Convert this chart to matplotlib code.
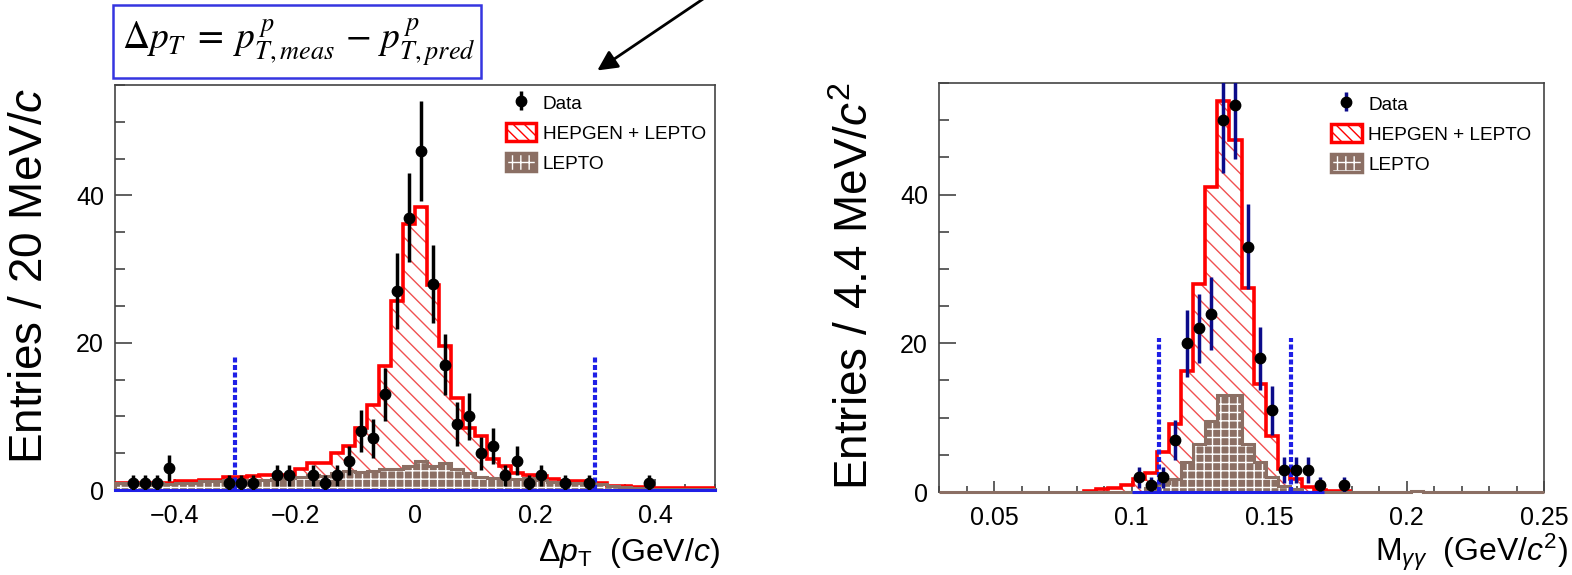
import numpy as np
import matplotlib
matplotlib.use("Agg")
import matplotlib.pyplot as plt
from matplotlib.patches import Patch, Rectangle, FancyArrowPatch
from matplotlib.ticker import MultipleLocator, FuncFormatter

plt.rcParams["font.family"] = ["Liberation Sans", "DejaVu Sans"]
plt.rcParams["mathtext.fontset"] = "custom"
plt.rcParams["mathtext.rm"] = "Liberation Sans"
plt.rcParams["mathtext.it"] = "Liberation Sans:italic"
plt.rcParams["mathtext.bf"] = "Liberation Sans:bold"
plt.rcParams["mathtext.sf"] = "Liberation Sans"
plt.rcParams["hatch.linewidth"] = 1.0

# --- left panel: delta pT, 50 bins of 20 MeV from -0.5 to 0.5 GeV
dpt_range = (-0.5, 0.5)
dpt_data = [0, 1, 1, 1, 3, 0, 0, 0, 0, 1,
            1, 1, 0, 2, 2, 0, 2, 1, 2, 4,
            8, 7, 13, 27, 37, 46, 28, 17, 9, 10,
            5, 6, 2, 4, 1, 2, 0, 1, 0, 1,
            0, 0, 0, 0, 1, 0, 0, 0, 0, 0]
dpt_total = [1.0, 1.0, 1.0, 1.0, 1.0, 1.2, 1.2, 1.4, 1.4, 1.7,
             1.7, 1.9, 2.0, 2.1, 2.1, 2.8, 3.7, 3.7, 5.0, 6.0,
             8.4, 11.6, 16.8, 25.6, 36.1, 38.5, 27.9, 19.5, 12.5, 8.4,
             7.3, 4.2, 3.3, 2.3, 2.1, 1.9, 1.5, 1.2, 1.2, 1.2,
             0.9, 0.6, 0.5, 0.4, 0.3, 0.3, 0.3, 0.3, 0.3, 0.3]
dpt_lepto = [0.9, 0.9, 0.9, 0.9, 0.8, 0.9, 1.0, 1.2, 1.2, 1.3,
             1.3, 1.4, 1.4, 1.5, 1.6, 1.8, 2.0, 1.9, 2.3, 2.6,
             2.5, 2.6, 2.8, 2.8, 3.2, 4.0, 3.3, 3.6, 2.8, 2.3,
             1.8, 1.6, 1.5, 1.5, 1.6, 1.3, 1.1, 1.0, 0.9, 0.9,
             0.8, 0.5, 0.4, 0.3, 0.2, 0.2, 0.2, 0.2, 0.2, 0.2]
dpt_cuts = [-0.3, 0.3]
dpt_cut_height = 18.3

# --- right panel: M_gg, 50 bins of 4.4 MeV from 0.03 to 0.25 GeV
mgg_range = (0.03, 0.25)
mgg_data = [0] * 16 + [2, 1, 2, 7, 20, 22, 24, 50, 52, 33,
                       18, 11, 3, 3, 3, 1, 0, 1] + [0] * 16
mgg_total = [0] * 12 + [0.2, 0.4, 0.5, 1.0, 1.8, 2.5, 5.4, 9.2, 16.3, 28.0,
                        41.0, 52.6, 47.3, 27.5, 14.5, 7.5, 3.1, 1.8, 0.7, 0.3,
                        0.2, 0.2] + [0] * 16
mgg_lepto = [0] * 17 + [0.5, 1.2, 1.7, 4.0, 6.5, 9.5, 13.0, 13.0, 6.5, 4.0,
                        2.0, 0.8, 0.4] + [0] * 9 + [0.2] + [0] * 10
mgg_cuts = [0.11, 0.158]
mgg_cut_height = 20.7
mgg_blue_span = (0.10, 0.17)

RED = "#ff0000"
RED_HATCH = "#f05050"
BROWN = "#8b6f64"
BLUE = "#1f1fe6"
NAVY = "#0b0b8a"


def tick_fmt(v, pos):
    s = f"{v:.3f}".rstrip("0").rstrip(".")
    if s in ("-0", ""):
        s = "0"
    return s.replace("-", "\u2212")


def draw_panel(ax, rng, data, total, lepto, err_color):
    edges = np.linspace(rng[0], rng[1], len(data) + 1)
    centers = 0.5 * (edges[:-1] + edges[1:])
    total = np.asarray(total, float)
    lepto = np.asarray(lepto, float)
    data = np.asarray(data, float)

    nz = np.flatnonzero(total)
    lo, hi = nz[0], nz[-1] + 1
    ax.stairs(total[lo:hi], edges[lo:hi + 1], fill=True, facecolor="white",
              edgecolor=RED_HATCH, hatch="\\\\", lw=0, zorder=1)
    ax.stairs(lepto, edges, fill=True, facecolor=BROWN, edgecolor="white",
              hatch="++", lw=0, zorder=2)
    ax.stairs(total[lo:hi], edges[lo:hi + 1], color=RED, lw=2.6, zorder=3)
    ax.stairs(lepto, edges, color=BROWN, lw=2.2, zorder=3.5, clip_on=False)

    m = data > 0
    h = ax.errorbar(centers[m], data[m], yerr=np.sqrt(data[m]), fmt="o",
                    color="black", ecolor=err_color, ms=7.5, elinewidth=2.5,
                    capsize=0, zorder=6)

    ax.set_xlim(rng)
    ax.set_ylim(0, 55)
    for s in ax.spines.values():
        s.set_color("#444444")
        s.set_linewidth(1.2)
    ax.tick_params(axis="both", which="both", direction="in", top=False,
                   right=False, labelsize=18, color="#444444")
    ax.tick_params(axis="x", which="major", length=8, width=1.2, pad=10)
    ax.tick_params(axis="x", which="minor", length=4.5, width=1.2)
    ax.tick_params(axis="y", which="major", length=12, width=1.2, pad=8)
    ax.tick_params(axis="y", which="minor", length=7, width=1.2)
    ax.yaxis.set_major_locator(MultipleLocator(20))
    ax.yaxis.set_minor_locator(MultipleLocator(5))
    ax.xaxis.set_major_formatter(FuncFormatter(tick_fmt))
    return h


fig = plt.figure(figsize=(15.72, 5.75), dpi=100)
ax1 = fig.add_axes([115 / 1572, 85 / 575, 600 / 1572, 405 / 575])
ax2 = fig.add_axes([939 / 1572, 83 / 575, 605 / 1572, 409 / 575])

h1 = draw_panel(ax1, dpt_range, dpt_data, dpt_total, dpt_lepto, "black")
ax1.xaxis.set_major_locator(MultipleLocator(0.2))
ax1.xaxis.set_minor_locator(MultipleLocator(0.05))
ax1.axhline(0, color=BLUE, lw=2.2, zorder=4, clip_on=False)
ax1.vlines(dpt_cuts, 0, dpt_cut_height, colors=BLUE, lw=3,
           linestyles=(0, (1.2, 0.6)), zorder=5)

h2 = draw_panel(ax2, mgg_range, mgg_data, mgg_total, mgg_lepto, NAVY)
ax2.xaxis.set_major_locator(MultipleLocator(0.05))
ax2.xaxis.set_minor_locator(MultipleLocator(0.01))
ax2.hlines(0, *mgg_blue_span, color=BLUE, lw=2.2, zorder=4, clip_on=False)
ax2.vlines(mgg_cuts, 0, mgg_cut_height, colors=BLUE, lw=3,
           linestyles=(0, (1.2, 0.6)), zorder=5)

sig_h = Patch(facecolor="white", edgecolor=RED, hatch="\\\\\\", lw=2.5)
bkg_h = (Patch(facecolor=BROWN, edgecolor="white", hatch="++", lw=0),
         Patch(facecolor="none", edgecolor=BROWN, lw=2.5))
labels = ["Data", "HEPGEN + LEPTO", "LEPTO"]
for ax, h, anchor in [(ax1, h1, (0.648, 0.985)), (ax2, h2, (0.645, 0.978))]:
    ax.legend([h, sig_h, bkg_h], labels, loc="upper left",
              bbox_to_anchor=anchor, frameon=False, fontsize=13.7,
              handlelength=1.6, handleheight=1.1, handletextpad=0.35,
              labelspacing=0.55, borderaxespad=0, borderpad=0.1)

# axis titles
fig.text(720 / 1572, 14 / 575, r"$\Delta\mathit{p}_{\mathrm{T}}$  (GeV/$\mathit{c}$)",
         ha="right", va="baseline", fontsize=23)
fig.text(1568 / 1572, 14 / 575, r"M$_{\gamma\gamma}$  (GeV/$\mathit{c}^{2}$)",
         ha="right", va="baseline", fontsize=23)
fig.text(30 / 1572, 487 / 575, r"Entries / 20 MeV/$\mathit{c}$",
         rotation=90, ha="center", va="top", fontsize=33)
fig.text(856 / 1572, 493 / 575, r"Entries / 4.4 MeV/$\mathit{c}^{2}$",
         rotation=90, ha="center", va="top", fontsize=33)

# formula box and arrow
fig.add_artist(Rectangle((113 / 1572, 497 / 575), 368 / 1572, 73 / 575,
                         transform=fig.transFigure, fill=False,
                         edgecolor="#3535e0", lw=1.8))
fig.text(122 / 1572, 533 / 575,
         r"$\Delta p_T\;=\;p^{\,p}_{T,meas}\,-\,p^{\,p}_{T,pred}$",
         fontsize=27, math_fontfamily="stix", va="center", ha="left")
fig.add_artist(FancyArrowPatch((706 / 1572, 578 / 575), (595 / 1572, 503 / 575),
                               transform=fig.transFigure, arrowstyle="-|>",
                               mutation_scale=30, lw=2, color="black"))

fig.savefig("out.png", dpi=100)
